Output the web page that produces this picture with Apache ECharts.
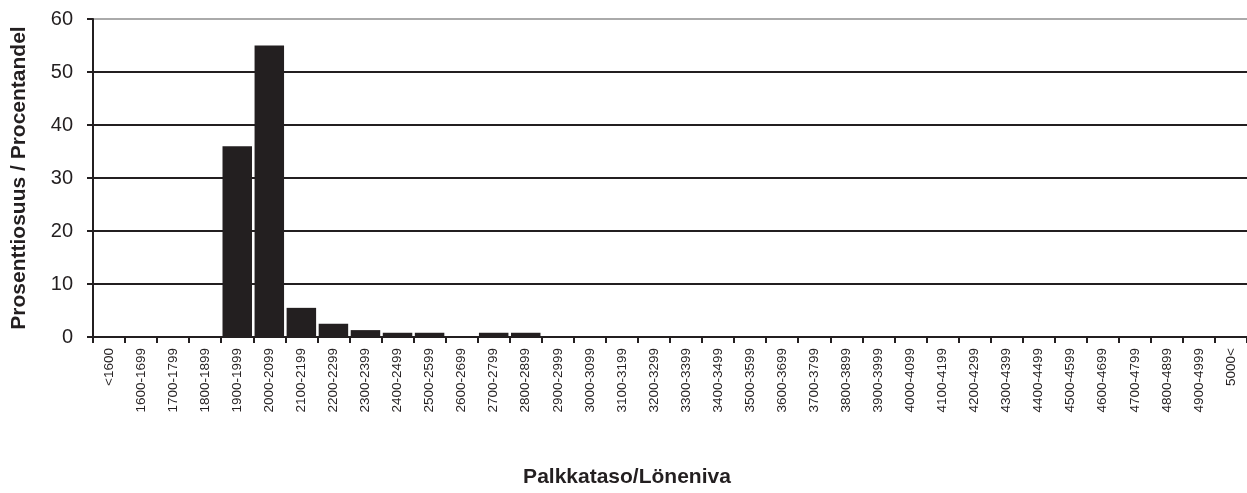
<!DOCTYPE html>
<html>
<head>
<meta charset="utf-8">
<script src="https://cdn.jsdelivr.net/npm/echarts@6/dist/echarts.min.js"></script>
<style>
  html, body { margin: 0; padding: 0; background: #fff; }
  #chart { width: 1247px; height: 493px; }
</style>
</head>
<body>
<div id="chart"></div>
<script>
// palkkatasot / lönenivåer
const categories = ['<1600', '1600-1699', '1700-1799', '1800-1899', '1900-1999', '2000-2099',
  '2100-2199', '2200-2299', '2300-2399', '2400-2499', '2500-2599', '2600-2699', '2700-2799',
  '2800-2899', '2900-2999', '3000-3099', '3100-3199', '3200-3299', '3300-3399', '3400-3499',
  '3500-3599', '3600-3699', '3700-3799', '3800-3899', '3900-3999', '4000-4099', '4100-4199',
  '4200-4299', '4300-4399', '4400-4499', '4500-4599', '4600-4699', '4700-4799', '4800-4899',
  '4900-4999', '5000<'];
// prosenttiosuus
const shares = [0, 0, 0, 0, 36, 55, 5.5, 2.5, 1.3, 0.8, 0.8, 0, 0.8, 0.8, 0, 0, 0, 0, 0, 0,
  0, 0, 0, 0, 0, 0, 0, 0, 0, 0, 0, 0, 0, 0, 0, 0];
const yTicks = [0, 10, 20, 30, 40, 50, 60];

const font = 'Liberation Sans, Arial, Helvetica, sans-serif';
let chart = echarts.init(document.getElementById('chart'));
let option = {
  animation: false,
  grid: { left: 93, right: -5, top: 19, bottom: 153 },
  xAxis: {
    type: 'category',
    data: categories,
    name: 'Palkkataso/Löneniva',
    nameLocation: 'middle',
    nameGap: 130,
    nameTextStyle: { fontFamily: font, fontWeight: 'bold', fontSize: 21, color: '#231f20', padding: [0, 86, 0, 0] },
    axisLine: { lineStyle: { color: '#231f20', width: 2 } },
    axisTick: { show: true, length: 6, lineStyle: { color: '#231f20', width: 2 } },
    axisLabel: { rotate: 90, interval: 0, fontFamily: font, fontSize: 13.5, color: '#231f20', margin: 11 }
  },
  yAxis: {
    type: 'value',
    min: yTicks[0],
    max: yTicks[yTicks.length - 1],
    interval: 10,
    name: 'Prosenttiosuus / Procentandel',
    nameLocation: 'middle',
    nameGap: 63,
    nameRotate: 90,
    nameTextStyle: { fontFamily: font, fontWeight: 'bold', fontSize: 21, color: '#231f20' },
    axisLine: { show: true, lineStyle: { color: '#231f20', width: 2 } },
    axisTick: { show: true, inside: false, length: 6, lineStyle: { color: '#231f20', width: 2 } },
    axisLabel: { fontFamily: font, fontSize: 20, color: '#231f20', margin: 20 },
    splitLine: {
      show: true,
      lineStyle: { color: ['#231f20', '#231f20', '#231f20', '#231f20', '#231f20', '#231f20', '#aaaaaa'], width: 2 }
    }
  },
  series: [
    {
      type: 'bar',
      data: shares,
      barCategoryGap: '8%',
      itemStyle: { color: '#231f20' }
    }
  ]
};
chart.setOption(option);
</script>
</body>
</html>
